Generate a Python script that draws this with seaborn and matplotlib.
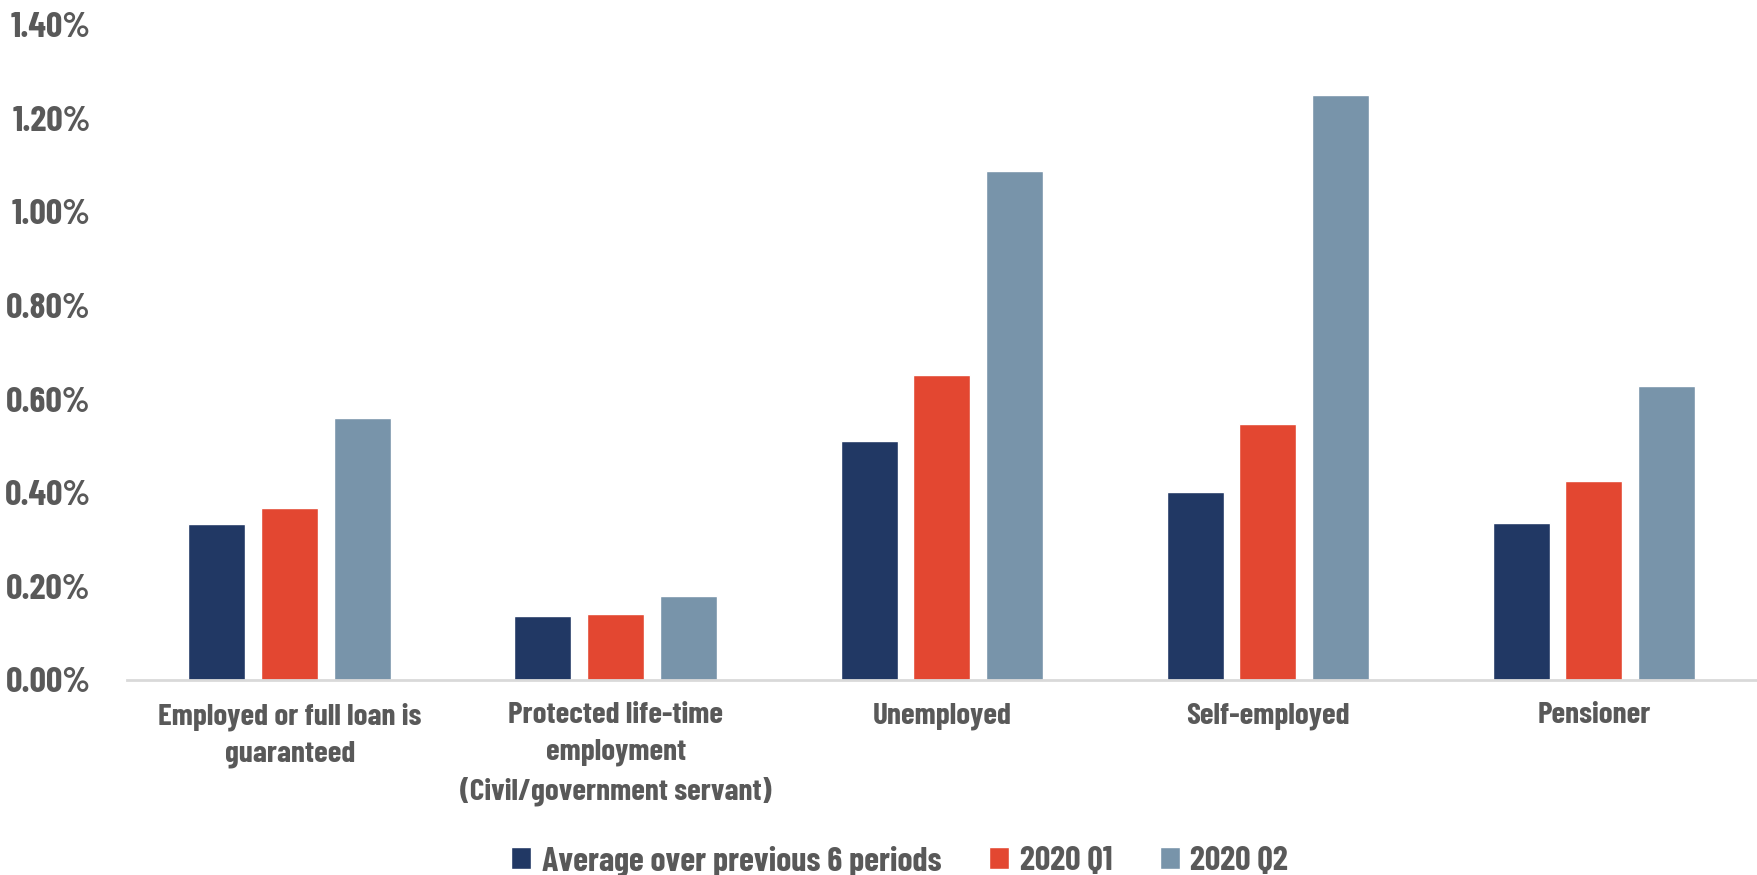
import matplotlib
matplotlib.use("Agg")
import matplotlib.pyplot as plt
from matplotlib import font_manager
import seaborn as sns
import pandas as pd

categories = [
    "Employed or full loan is\nguaranteed",
    "Protected life-time\nemployment\n(Civil/government servant)",
    "Unemployed",
    "Self-employed",
    "Pensioner",
]
series_names = ["Average over previous 6 periods", "2020 Q1", "2020 Q2"]
avg_prev6 = [0.334, 0.136, 0.511, 0.401, 0.335]
q1_2020 = [0.367, 0.140, 0.652, 0.547, 0.425]
q2_2020 = [0.560, 0.179, 1.087, 1.250, 0.628]
y_ticks = [0.0, 0.2, 0.4, 0.6, 0.8, 1.0, 1.2, 1.4]
colors = ["#213864", "#E34731", "#7894AA"]

sns.set_theme(style="white")
names = {f.name for f in font_manager.fontManager.ttflist}
fam = [n for n in ["Barlow Condensed", "Roboto Condensed", "Archivo Narrow"] if n in names][:1] + ["DejaVu Sans"]
plt.rcParams["font.family"] = fam
plt.rcParams["font.weight"] = "bold"
txt_color = "#595959"

rows = []
for vals, s in zip([avg_prev6, q1_2020, q2_2020], series_names):
    for c, v in zip(categories, vals):
        rows.append({"category": c, "series": s, "value": v})
df = pd.DataFrame(rows)

fig = plt.figure(figsize=(17.57, 8.75), dpi=100)
ax = fig.add_axes([0.0721, 0.2229, 0.9279, 0.9718 - 0.2229])
sns.barplot(data=df, x="category", y="value", hue="series", order=categories,
            hue_order=series_names, palette=colors, width=0.67, gap=0.217,
            saturation=1, ax=ax, legend=True)

ax.set_xlim(-0.5, 4.5)
ax.set_ylim(0, 1.4)
ax.set_yticks(y_ticks)
ax.set_yticklabels([f"{t:.2f}%" for t in y_ticks])
ax.set_xlabel("")
ax.set_ylabel("")
for s in ["top", "right", "left"]:
    ax.spines[s].set_visible(False)
ax.spines["bottom"].set_color("#D9D9D9")
ax.spines["bottom"].set_linewidth(2)
ax.tick_params(axis="y", length=0, pad=26, labelsize=26, labelcolor=txt_color)
ax.tick_params(axis="x", length=0, pad=16, labelsize=22.5, labelcolor=txt_color)
for lbl in ax.get_xticklabels() + ax.get_yticklabels():
    lbl.set_fontweight("bold")
for lbl in ax.get_xticklabels():
    lbl.set_linespacing(1.46)

handles, labels = ax.get_legend_handles_labels()
ax.get_legend().remove()
leg = fig.legend(handles, labels, loc="center", bbox_to_anchor=(0.512, 0.016),
                 ncol=3, frameon=False, fontsize=24.5, handlelength=0.6,
                 handleheight=0.6, handletextpad=0.3, columnspacing=1.4)
for t in leg.get_texts():
    t.set_color(txt_color)
    t.set_fontweight("bold")

fig.savefig("out.png", dpi=100)
